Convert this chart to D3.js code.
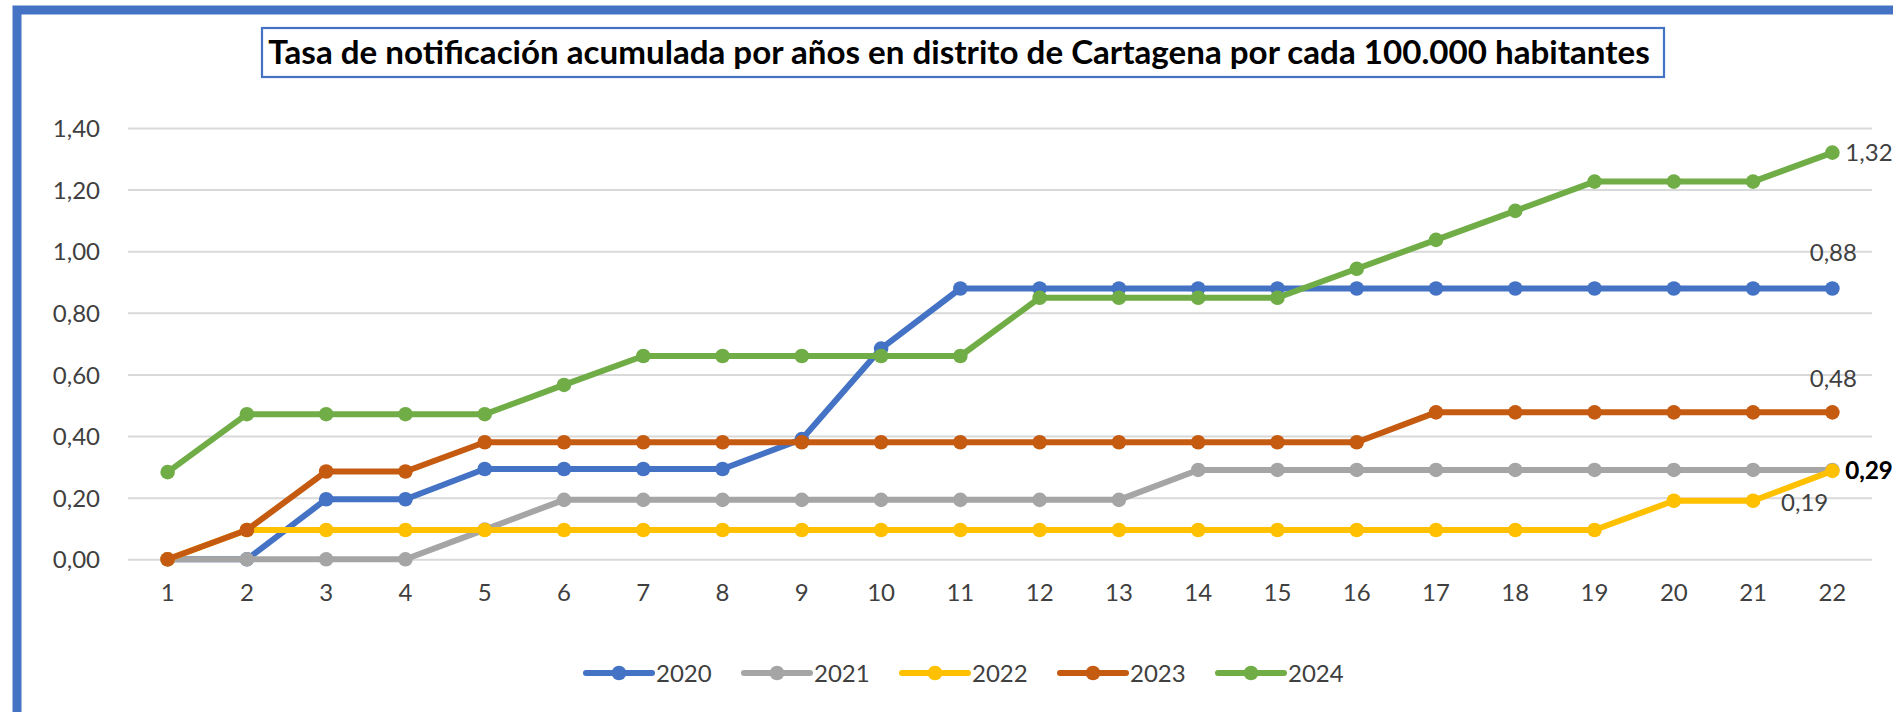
<!DOCTYPE html>
<html>
<head>
<meta charset="utf-8">
<script src="https://cdn.jsdelivr.net/npm/d3@7"></script>
<style>
  html, body { margin: 0; padding: 0; background: #fff; }
  svg { display: block; }
  text { font-family: Lato, "Open Sans", sans-serif; }
</style>
</head>
<body>
<svg id="chart" width="1893" height="712"></svg>
<script>
// ---- data ----
const categories = ["1","2","3","4","5","6","7","8","9","10","11","12","13","14","15","16","17","18","19","20","21","22"];
const seriesNames = ["2020","2021","2022","2023","2024"];
const values2020 = [0,0,0.195,0.195,0.293,0.293,0.293,0.293,0.39,0.684,0.879,0.879,0.879,0.879,0.879,0.879,0.879,0.879,0.879,0.879,0.879,0.879];
const values2021 = [0,0,0,0,0.0965,0.193,0.193,0.193,0.193,0.193,0.193,0.193,0.193,0.29,0.29,0.29,0.29,0.29,0.29,0.29,0.29,0.29];
const values2022 = [0,0.095,0.095,0.095,0.095,0.095,0.095,0.095,0.095,0.095,0.095,0.095,0.095,0.095,0.095,0.095,0.095,0.095,0.095,0.19,0.19,0.287];
const values2023 = [0,0.095,0.285,0.285,0.38,0.38,0.38,0.38,0.38,0.38,0.38,0.38,0.38,0.38,0.38,0.38,0.477,0.477,0.477,0.477,0.477,0.477];
const values2024 = [0.283,0.471,0.471,0.471,0.471,0.566,0.66,0.66,0.66,0.66,0.66,0.849,0.849,0.849,0.849,0.943,1.037,1.131,1.226,1.226,1.226,1.32];
const yTicks = [0,0.2,0.4,0.6,0.8,1.0,1.2,1.4];
const titleText = "Tasa de notificación acumulada por años en distrito de Cartagena por cada 100.000 habitantes";

const seriesValues = [values2020, values2021, values2022, values2023, values2024];
const colors = ["#4472C4","#A5A5A5","#FFC000","#C55A11","#70AD47"];

const svg = d3.select("#chart");
const fmt = v => d3.format(".2f")(v).replace(".", ",");

// outer frame
svg.append("rect").attr("x", 17).attr("y", 10).attr("width", 1960).attr("height", 800)
  .attr("fill", "#fff").attr("stroke", "#4472C4").attr("stroke-width", 9);

// title box
const titleG = svg.append("g");
titleG.append("rect").attr("x", 262).attr("y", 28).attr("width", 1402).attr("height", 49)
  .attr("fill", "#fff").attr("stroke", "#4472C4").attr("stroke-width", 2.2);
const tt = titleG.append("text").attr("x", 959).attr("y", 52.5).attr("dy", "0.36em")
  .attr("text-anchor", "middle").attr("font-weight", "bold").attr("font-size", 24)
  .attr("fill", "#000").text(titleText);
const tw = tt.node().getComputedTextLength();
tt.attr("font-size", 24 * 1382 / tw);

// scales
const plotL = 128, plotR = 1872, yBottom = 559.3, yTop = 128;
const x = d3.scaleBand().domain(categories).range([plotL, plotR]).padding(0);
const y = d3.scaleLinear().domain([0, 1.4]).range([yBottom, yTop]);
const cx = c => x(c) + x.bandwidth() / 2;

// gridlines
const grid = svg.append("g").attr("transform", `translate(${plotL},0)`)
  .call(d3.axisLeft(y).tickValues(yTicks).tickSize(-(plotR - plotL)).tickFormat(""));
grid.select(".domain").remove();
grid.selectAll("line").attr("stroke", "#D9D9D9").attr("stroke-width", 2);

// y axis labels
const ya = svg.append("g").attr("transform", `translate(${plotL},0)`)
  .call(d3.axisLeft(y).tickValues(yTicks).tickSize(0).tickPadding(28).tickFormat(fmt));
ya.select(".domain").remove();
ya.selectAll("text").attr("font-size", 24).attr("fill", "#404040")
  .attr("font-family", "Lato, sans-serif").attr("dy", "0.36em");

// x axis labels
const xa = svg.append("g").attr("transform", `translate(0,${yBottom})`)
  .call(d3.axisBottom(x).tickSize(0).tickPadding(25));
xa.select(".domain").remove();
xa.selectAll("text").attr("font-size", 24).attr("fill", "#404040")
  .attr("font-family", "Lato, sans-serif");

// series
const line = d3.line().x((d, i) => cx(categories[i])).y(d => y(d));
seriesValues.forEach((vals, si) => {
  const g = svg.append("g");
  g.append("path").datum(vals).attr("d", line).attr("fill", "none")
    .attr("stroke", colors[si]).attr("stroke-width", 6).attr("stroke-linejoin", "round");
  g.selectAll("circle").data(vals).join("circle")
    .attr("cx", (d, i) => cx(categories[i])).attr("cy", d => y(d))
    .attr("r", 7.3).attr("fill", colors[si]);
});

// data labels
const last = categories.length - 1;
const lastX = cx(categories[last]);
function label(xp, yp, txt, opts = {}) {
  svg.append("text").attr("x", xp).attr("y", yp).attr("dy", "0.36em")
    .attr("text-anchor", opts.anchor || "start").attr("font-size", 24)
    .attr("font-weight", opts.weight || "normal")
    .attr("fill", opts.fill || "#404040").text(txt);
}
label(lastX + 13, y(values2024[last]), fmt(values2024[last]));
label(lastX + 1, y(values2020[last]) - 36, fmt(values2020[last]), {anchor: "middle"});
label(lastX + 1, y(values2023[last]) - 34, fmt(values2023[last]), {anchor: "middle"});
label(lastX + 13, y(values2021[last]), fmt(values2021[last]), {fill: "#000"});
label(lastX + 13, y(values2022[last]) - 1, fmt(values2022[last]), {fill: "#000", weight: "bold"});
label(cx(categories[last - 1]) + 28, y(values2022[last - 1]) + 2, fmt(values2022[last - 1]));

// legend
const legY = 673, legX0 = 586, legStep = 158, legLine = 66;
seriesNames.forEach((name, i) => {
  const lx = legX0 + i * legStep;
  const g = svg.append("g");
  g.append("line").attr("x1", lx).attr("x2", lx + legLine).attr("y1", legY).attr("y2", legY)
    .attr("stroke", colors[i]).attr("stroke-width", 6).attr("stroke-linecap", "round");
  g.append("circle").attr("cx", lx + legLine / 2).attr("cy", legY).attr("r", 7.3).attr("fill", colors[i]);
  g.append("text").attr("x", lx + legLine + 4).attr("y", legY).attr("dy", "0.36em")
    .attr("font-size", 24).attr("fill", "#404040").text(name);
});
</script>
</body>
</html>
